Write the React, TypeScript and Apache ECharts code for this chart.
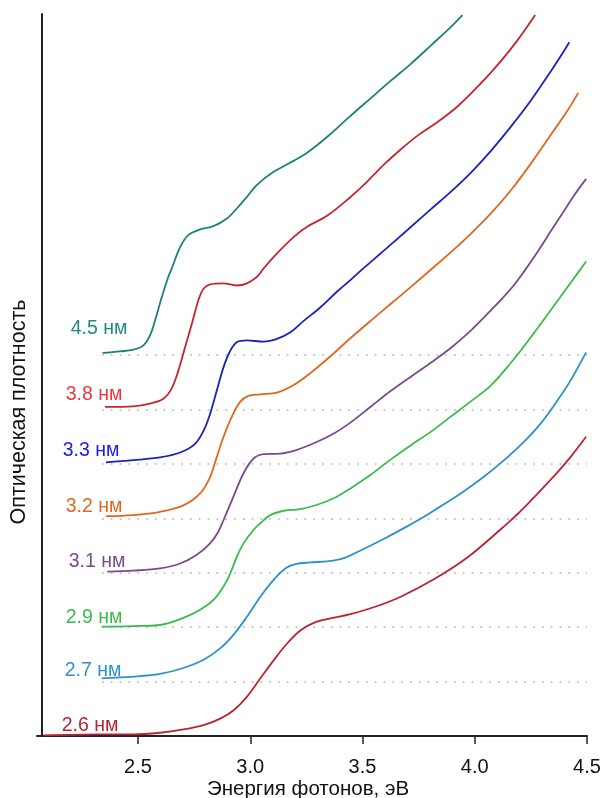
import React, { useEffect, useRef } from "react";
import * as echarts from "echarts";

// ---- data (photon energy in eV, optical density relative to each curve's baseline) ----
const e45 = [2.342, 2.42, 2.479, 2.524, 2.554, 2.576, 2.606, 2.635, 2.65, 2.688, 2.725, 2.777, 2.836, 2.896, 2.941, 2.985, 3.03, 3.104, 3.193, 3.253, 3.342, 3.439, 3.536, 3.625, 3.714, 3.804, 3.893, 3.945];
const v45 = [0.04, 0.07, 0.1, 0.18, 0.37, 0.64, 1.07, 1.44, 1.59, 1.99, 2.21, 2.31, 2.37, 2.51, 2.7, 2.91, 3.13, 3.37, 3.57, 3.72, 4.01, 4.37, 4.72, 5.04, 5.35, 5.69, 6.03, 6.25];

const e38 = [2.353, 2.479, 2.554, 2.613, 2.65, 2.68, 2.71, 2.74, 2.769, 2.792, 2.821, 2.881, 2.941, 2.985, 3.03, 3.059, 3.119, 3.193, 3.253, 3.342, 3.439, 3.521, 3.595, 3.67, 3.744, 3.833, 3.923, 4.012, 4.101, 4.191, 4.269];
const v38 = [0.05, 0.06, 0.11, 0.2, 0.39, 0.72, 1.15, 1.58, 2.01, 2.22, 2.3, 2.32, 2.28, 2.32, 2.44, 2.59, 2.87, 3.17, 3.36, 3.56, 3.88, 4.19, 4.5, 4.78, 5.03, 5.28, 5.57, 5.93, 6.33, 6.79, 7.25];

const e33 = [2.357, 2.479, 2.598, 2.688, 2.754, 2.792, 2.821, 2.851, 2.881, 2.911, 2.941, 2.985, 3.059, 3.119, 3.179, 3.238, 3.313, 3.387, 3.446, 3.491, 3.595, 3.7, 3.804, 3.893, 3.982, 4.071, 4.161, 4.25, 4.339, 4.399, 4.421];
const v33 = [0.03, 0.07, 0.12, 0.21, 0.37, 0.61, 0.92, 1.35, 1.78, 2.08, 2.24, 2.27, 2.25, 2.3, 2.42, 2.63, 2.88, 3.17, 3.38, 3.55, 3.92, 4.3, 4.68, 5.0, 5.35, 5.75, 6.2, 6.68, 7.22, 7.6, 7.75];

const e32 = [2.357, 2.479, 2.598, 2.702, 2.777, 2.821, 2.851, 2.881, 2.918, 2.955, 2.992, 3.045, 3.119, 3.193, 3.268, 3.357, 3.446, 3.536, 3.625, 3.714, 3.804, 3.893, 3.982, 4.071, 4.161, 4.25, 4.339, 4.414, 4.461];
const v32 = [0.04, 0.06, 0.12, 0.24, 0.46, 0.76, 1.13, 1.5, 1.87, 2.14, 2.25, 2.28, 2.31, 2.45, 2.67, 2.98, 3.31, 3.63, 3.94, 4.25, 4.57, 4.89, 5.23, 5.6, 6.03, 6.52, 7.05, 7.5, 7.82];

const e31 = [2.363, 2.479, 2.598, 2.688, 2.762, 2.821, 2.857, 2.881, 2.925, 2.97, 3.015, 3.059, 3.134, 3.208, 3.283, 3.372, 3.446, 3.536, 3.625, 3.714, 3.804, 3.893, 3.982, 4.071, 4.161, 4.22, 4.28, 4.339, 4.399, 4.443, 4.496];
const v31 = [0.02, 0.04, 0.08, 0.17, 0.33, 0.54, 0.75, 0.97, 1.4, 1.83, 2.1, 2.18, 2.19, 2.26, 2.38, 2.56, 2.76, 3.05, 3.34, 3.6, 3.86, 4.13, 4.45, 4.82, 5.22, 5.54, 5.9, 6.28, 6.66, 6.94, 7.24];

const e29 = [2.338, 2.479, 2.598, 2.702, 2.777, 2.836, 2.881, 2.911, 2.941, 2.97, 3.015, 3.045, 3.089, 3.149, 3.223, 3.298, 3.372, 3.446, 3.536, 3.625, 3.714, 3.804, 3.893, 3.982, 4.071, 4.161, 4.228, 4.295, 4.362, 4.429, 4.496];
const v29 = [0.01, 0.02, 0.04, 0.17, 0.32, 0.5, 0.75, 0.99, 1.3, 1.54, 1.79, 1.91, 2.06, 2.14, 2.17, 2.25, 2.37, 2.55, 2.8, 3.08, 3.34, 3.59, 3.87, 4.15, 4.44, 4.86, 5.21, 5.58, 5.96, 6.34, 6.72];

const e27 = [2.338, 2.479, 2.598, 2.702, 2.792, 2.866, 2.925, 2.985, 3.045, 3.104, 3.156, 3.201, 3.268, 3.342, 3.402, 3.446, 3.603, 3.684, 3.774, 3.863, 3.952, 4.042, 4.131, 4.22, 4.295, 4.369, 4.429, 4.496];
const v27 = [0.06, 0.09, 0.14, 0.25, 0.4, 0.61, 0.86, 1.19, 1.56, 1.87, 2.08, 2.16, 2.19, 2.21, 2.25, 2.32, 2.64, 2.82, 3.03, 3.26, 3.5, 3.77, 4.07, 4.41, 4.75, 5.17, 5.55, 6.05];

const e26 = [2.08, 2.33, 2.479, 2.598, 2.702, 2.792, 2.866, 2.925, 2.985, 3.045, 3.104, 3.164, 3.223, 3.283, 3.357, 3.446, 3.56, 3.67, 3.818, 3.967, 4.116, 4.191, 4.265, 4.369, 4.429, 4.496];
const v26 = [0.01, 0.03, 0.03, 0.06, 0.12, 0.2, 0.32, 0.47, 0.72, 1.06, 1.39, 1.7, 1.94, 2.08, 2.16, 2.24, 2.38, 2.56, 2.88, 3.28, 3.8, 4.08, 4.39, 4.85, 5.14, 5.5];

const sizeLabels = ["4.5 нм", "3.8 нм", "3.3 нм", "3.2 нм", "3.1 нм", "2.9 нм", "2.7 нм", "2.6 нм"];
const energies = [e45, e38, e33, e32, e31, e29, e27, e26];
const values = [v45, v38, v33, v32, v31, v29, v27, v26];
const baselineOffsets = [7, 6, 5, 4, 3, 2, 1, 0];
const xTicks = [2.5, 3.0, 3.5, 4.0, 4.5];

const lineColors = ["#1c8279", "#c2262e", "#1a22b8", "#e0681e", "#7a4b8c", "#3cb94f", "#2e92c9", "#bb2330"];
const labelColors = ["#1f8a80", "#ee3540", "#1a1af0", "#e0681e", "#7a4b8c", "#3cb94f", "#2e92c9", "#bb2330"];

// label anchor positions (pixel centres)
const labelPos = [
  [99, 327], [94, 393], [91, 449], [94, 505], [97, 560], [94, 616], [93, 669], [90, 724],
];

const FONT = "'Liberation Sans', Arial, sans-serif";

export default function App() {
  const ref = useRef<HTMLDivElement>(null);
  useEffect(() => {
    if (!ref.current) return;
    const chart = echarts.init(ref.current, null, { renderer: "svg" });

    const series: any[] = energies.map((xs, i) => {
      const off = baselineOffsets[i];
      const s: any = {
        type: "line",
        name: sizeLabels[i],
        data: xs.map((x, k) => [x, values[i][k] + off]),
        smooth: 0.35,
        showSymbol: false,
        symbol: "none",
        lineStyle: { color: lineColors[i], width: 1.8 },
        z: 3,
      };
      if (off > 0) {
        s.markLine = {
          silent: true,
          symbol: "none",
          label: { show: false },
          lineStyle: { color: "#b0b0b0", type: [1.6, 7.2], width: 1.6 },
          data: [[{ coord: [2.34, off] }, { coord: [4.5, off] }]],
          z: 1,
        };
      }
      return s;
    });

    const graphic: any[] = sizeLabels.map((t, i) => ({
      type: "text",
      x: labelPos[i][0],
      y: labelPos[i][1],
      style: {
        text: t,
        fill: labelColors[i],
        font: `19.5px ${FONT}`,
        align: "center",
        verticalAlign: "middle",
      },
    }));
    graphic.push({
      type: "text",
      x: 18,
      y: 412,
      rotation: Math.PI / 2,
      style: {
        text: "Оптическая плотность",
        fill: "#111",
        font: `21.5px ${FONT}`,
        align: "center",
        verticalAlign: "middle",
      },
    });
    graphic.push({
      type: "text",
      x: 308,
      y: 787,
      style: {
        text: "Энергия фотонов, эВ",
        fill: "#111",
        font: `20.5px ${FONT}`,
        align: "center",
        verticalAlign: "middle",
      },
    });

    chart.setOption({
      animation: false,
      grid: { left: 37, right: 17, top: 14, bottom: 62 },
      xAxis: {
        type: "value",
        min: 2.05,
        max: 4.5,
        splitLine: { show: false },
        axisLine: { lineStyle: { color: "#222", width: 2 } },
        axisTick: { show: true, customValues: xTicks, length: 8, lineStyle: { color: "#222", width: 1.5 } },
        axisLabel: {
          customValues: xTicks,
          formatter: (v: number) => v.toFixed(1),
          color: "#111",
          fontSize: 20,
          fontFamily: FONT,
          margin: 20,
        },
      },
      yAxis: {
        type: "value",
        min: 0,
        max: 13.27,
        offset: -5,
        splitLine: { show: false },
        axisLine: { show: true, lineStyle: { color: "#222", width: 2 } },
        axisTick: { show: false },
        axisLabel: { show: false },
      },
      series,
      graphic,
    });
    return () => chart.dispose();
  }, []);
  return (
    <div
      ref={ref}
      style={{ position: "fixed", left: 0, top: 0, width: 604, height: 798 }}
    />
  );
}
